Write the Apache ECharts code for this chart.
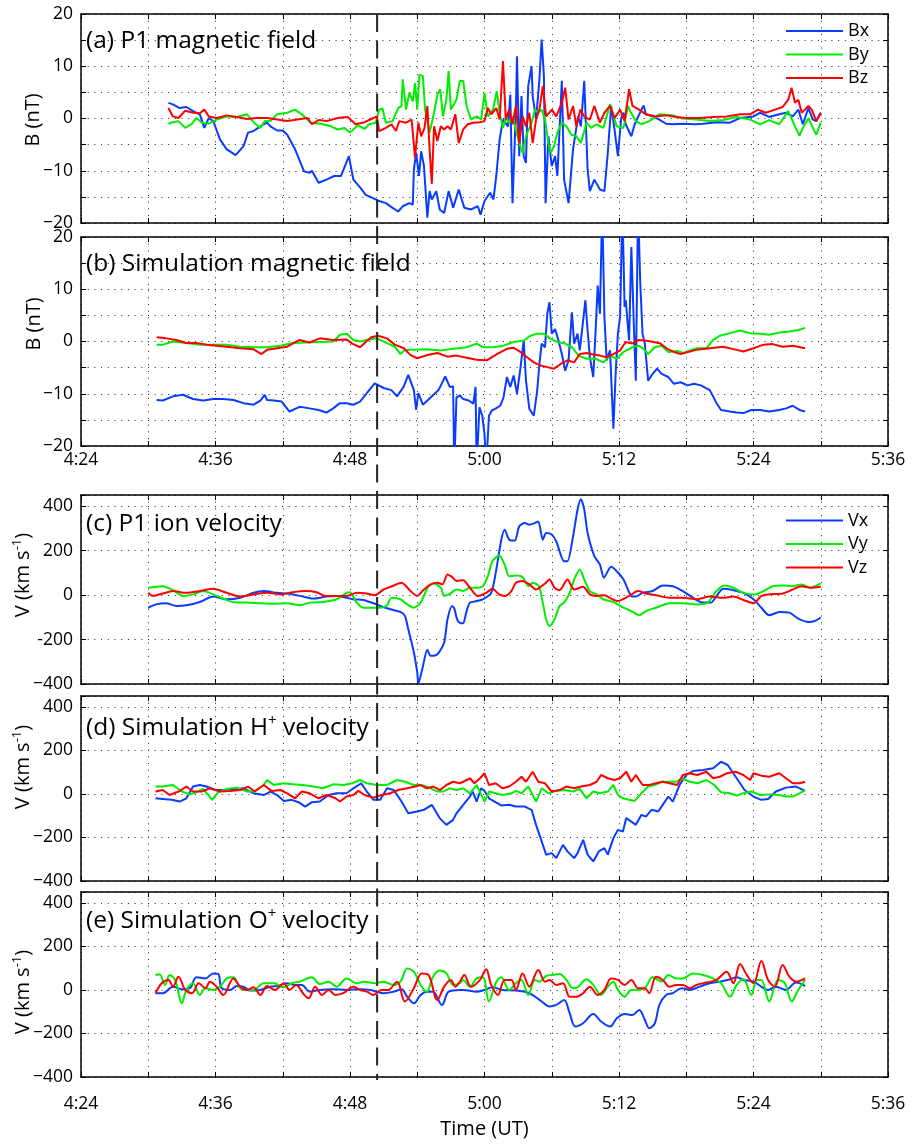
<!DOCTYPE html>
<html>
<head>
<meta charset="utf-8">
<script src="https://cdn.jsdelivr.net/npm/echarts@6/dist/echarts.min.js"></script>
<style>
  html, body { margin: 0; padding: 0; background: #fff; }
  #chart { width: 912px; height: 1144px; }
</style>
</head>
<body>
<div id="chart"></div>
<script>
// ---- Time axis (minutes after 04:00 UT) ----
const timeTicks = [24, 36, 48, 60, 72, 84, 96];
const timeTickLabels = ['4:24', '4:36', '4:48', '5:00', '5:12', '5:24', '5:36'];
const dashTime = 50.42; // vertical reference time, ~4:50:25 UT

// ---- Y tick labels ----
const bTicks = [-20, -10, 0, 10, 20];
const bTickLabels = ['\u221220', '\u221210', '0', '10', '20'];
const vTicks = [-400, -200, 0, 200, 400];
const vTickLabels = ['\u2212400', '\u2212200', '0', '200', '400'];
const cTickLabels = ['\u2212400', '-200', '0', '200', '400'];

// ---- (a) P1 magnetic field [minute, nT] ----
const aBx = [[31.8,3.0],[32.2,2.7],[32.8,2.0],[33.4,2.2],[34.0,1.4],[34.6,0.8],[35.0,-1.8],[35.4,0.1],[35.8,-0.5],[36.4,-4.0],[37.0,-5.9],[37.8,-7.0],[38.5,-5.3],[38.9,-2.7],[39.4,-2.4],[39.8,-1.8],[40.3,-1.1],[40.6,-0.8],[40.9,-1.5],[41.5,-2.3],[42.0,-2.3],[42.4,-3.1],[43.1,-5.9],[43.9,-10.1],[44.4,-10.4],[44.6,-10.0],[45.2,-12.3],[45.9,-11.7],[46.6,-11.0],[47.2,-11.0],[47.9,-7.2],[48.3,-11.7],[48.9,-13.2],[49.4,-14.6],[50.0,-15.2],[50.6,-15.8],[51.2,-16.2],[51.8,-17.1],[52.3,-17.8],[52.7,-16.8],[53.3,-16.2],[53.6,-16.5],[53.7,-9.8],[53.9,-6.6],[54.15,-11.0],[54.35,-6.3],[54.6,-9.1],[54.9,-19.0],[55.1,-13.9],[55.3,-15.5],[55.7,-13.9],[56.0,-17.4],[56.4,-18.1],[56.8,-13.9],[57.2,-17.1],[57.7,-13.6],[58.2,-17.1],[58.8,-17.4],[59.4,-16.8],[59.65,-18.4],[60.0,-15.8],[60.5,-14.2],[60.8,-15.5],[61.05,-11.0],[61.35,-4.0],[61.65,-0.2],[62.1,-1.5],[62.3,4.6],[62.5,-16.2],[62.8,1.7],[62.9,11.9],[63.1,-7.2],[63.3,4.3],[63.5,-7.2],[63.7,-8.5],[63.9,6.2],[64.2,10.0],[64.3,4.3],[64.6,-0.2],[64.9,7.5],[65.1,15.1],[65.3,8.1],[65.45,-16.2],[65.7,-3.4],[66.0,-9.1],[66.3,-7.2],[66.5,-11.0],[66.9,7.2],[67.1,-11.7],[67.5,-16.2],[67.9,-5.9],[68.35,0.4],[68.6,-1.5],[68.9,7.2],[69.2,-9.8],[69.4,-13.9],[69.8,-11.7],[70.3,-13.6],[70.7,-13.9],[71.0,-6.6],[71.3,2.4],[71.6,-2.1],[71.9,-7.2],[72.2,0.1],[72.4,1.1],[72.6,-1.1],[73.1,-3.4],[73.4,-1.1],[74.0,1.7],[74.2,2.5],[74.4,0.8],[75.0,0.4],[75.6,-0.2],[76.2,-1.0],[76.8,-1.1],[77.7,-1.0],[78.8,-1.1],[79.5,-1.0],[80.7,-0.7],[81.9,-0.8],[82.8,0.1],[84.0,0.4],[84.6,1.1],[85.4,0.3],[86.3,0.8],[86.9,1.1],[87.5,0.4],[88.0,1.7],[88.4,-1.1],[88.9,2.0],[89.3,-0.2],[89.6,-0.5],[90.0,1.1]];
const aBy = [[31.8,-1.0],[32.2,-0.7],[32.7,-0.5],[33.3,-1.8],[33.9,-1.0],[34.3,0.1],[34.8,-0.8],[35.4,-1.0],[36.1,-0.2],[37.0,0.4],[37.9,0.3],[38.8,0.8],[39.4,-0.7],[40.0,-1.8],[40.4,-0.5],[40.9,-0.5],[41.5,0.8],[42.4,1.1],[43.1,1.7],[43.7,0.8],[44.5,-0.8],[45.4,-1.0],[46.3,-1.5],[46.9,-2.1],[47.5,-1.8],[48.0,-2.7],[48.7,-1.3],[49.3,-2.0],[49.7,-1.1],[50.3,-0.8],[50.6,1.7],[50.9,1.9],[51.2,-0.8],[51.8,-0.5],[52.3,2.0],[52.6,2.4],[52.7,7.5],[53.0,1.7],[53.3,4.9],[53.6,3.3],[53.8,6.8],[54.0,1.7],[54.2,8.4],[54.5,8.1],[54.7,1.7],[55.1,-2.7],[55.5,1.1],[55.8,4.6],[56.05,5.6],[56.3,0.4],[56.6,3.6],[56.8,9.1],[57.0,1.7],[57.5,3.6],[57.8,7.2],[58.1,7.2],[58.4,2.4],[58.8,-0.2],[59.3,0.4],[59.7,-0.2],[60.0,4.9],[60.3,0.4],[60.75,1.7],[61.1,5.2],[61.35,1.1],[61.65,-1.8],[61.9,0.1],[62.2,-0.8],[62.5,0.4],[62.8,-2.1],[63.1,-4.7],[63.4,-6.6],[63.7,-3.4],[64.2,-0.8],[64.5,1.7],[64.8,1.1],[65.1,1.7],[65.4,-0.2],[65.7,-4.7],[65.9,-6.6],[66.2,-5.3],[66.5,-2.7],[66.9,-0.8],[67.3,-1.5],[67.75,-3.1],[68.2,-3.4],[68.6,-4.7],[69.1,-0.8],[69.5,-1.8],[70.0,-1.1],[70.6,-1.8],[71.2,2.7],[71.8,-1.5],[72.4,-1.8],[72.8,2.4],[73.0,1.4],[73.5,-0.5],[74.0,-1.1],[74.7,-0.5],[75.6,0.8],[76.8,0.6],[77.7,0.0],[78.9,-0.2],[80.1,-0.5],[81.3,-0.3],[82.5,0.3],[83.7,-0.2],[84.6,-1.1],[85.4,-0.3],[86.3,-1.1],[87.1,1.4],[87.7,-1.5],[88.1,-3.3],[88.4,-1.8],[88.9,0.1],[89.3,-1.8],[89.6,-3.1],[90.0,-0.8]];
const aBz = [[31.8,2.0],[32.2,0.4],[32.7,0.1],[33.3,1.5],[34.0,1.1],[34.6,1.0],[35.0,1.7],[35.4,0.4],[36.1,0.1],[37.0,0.6],[37.9,0.3],[38.8,-0.1],[39.7,0.1],[40.6,0.1],[41.5,-0.2],[42.4,-0.5],[43.3,-0.2],[44.2,0.1],[44.6,-1.1],[45.2,-0.3],[45.9,-0.5],[46.9,0.1],[47.8,0.3],[48.5,-1.1],[49.3,-0.7],[49.9,-0.1],[50.4,0.4],[50.6,-2.4],[51.2,-1.8],[51.7,-1.1],[52.1,-2.4],[52.4,-0.5],[53.0,-0.8],[53.5,-0.2],[53.8,-7.5],[54.1,-0.8],[54.35,-3.4],[54.65,-1.8],[54.9,2.4],[55.1,-5.9],[55.3,-12.5],[55.5,-1.5],[55.8,-4.3],[56.1,-1.5],[56.4,-2.1],[56.7,-1.5],[57.0,-2.1],[57.4,0.8],[57.7,-4.7],[58.1,-2.1],[58.5,-1.1],[59.0,-0.8],[59.6,-0.7],[60.0,-0.5],[60.3,2.0],[60.6,0.8],[61.05,2.0],[61.35,-0.2],[61.65,11.0],[61.9,-0.2],[62.2,1.7],[62.5,-1.1],[62.8,2.4],[63.1,-4.7],[63.4,0.4],[63.7,-1.5],[64.0,1.1],[64.3,-4.7],[64.6,-0.2],[64.9,1.7],[65.2,6.2],[65.5,0.4],[66.0,1.7],[66.4,0.4],[66.9,3.0],[67.2,5.9],[67.5,-0.2],[67.9,2.4],[68.2,-1.5],[68.55,1.7],[68.9,0.4],[69.4,-0.2],[69.8,2.4],[70.3,-0.8],[70.7,1.1],[71.2,2.4],[71.6,0.1],[72.1,1.7],[72.5,-0.5],[72.9,5.6],[73.2,2.4],[73.8,1.7],[74.4,0.8],[75.3,0.4],[76.2,0.6],[77.1,0.3],[78.0,0.1],[79.2,0.1],[80.4,0.3],[81.6,0.4],[82.8,0.8],[83.7,0.8],[84.4,1.7],[85.1,1.1],[85.9,1.7],[86.6,2.2],[87.1,3.6],[87.4,5.9],[87.7,3.0],[88.0,3.6],[88.3,1.1],[88.6,1.7],[88.9,2.4],[89.2,1.7],[89.6,-0.5],[90.0,1.1]];

// ---- (b) Simulation magnetic field [minute, nT] ----
const bBx = [[30.75,-11.2],[31.3,-11.3],[32.2,-10.5],[33.1,-10.2],[34.0,-11.0],[34.9,-11.3],[35.8,-11.0],[36.7,-11.0],[37.6,-11.2],[38.5,-11.8],[39.4,-12.1],[40.0,-11.3],[40.4,-10.2],[40.6,-11.2],[41.2,-11.3],[41.9,-11.5],[42.6,-13.4],[43.5,-12.5],[44.4,-12.8],[45.2,-13.1],[45.9,-13.6],[46.5,-12.8],[47.1,-11.8],[47.7,-11.8],[48.3,-12.1],[48.9,-11.5],[49.5,-9.9],[50.2,-8.0],[51.0,-8.9],[51.7,-9.3],[52.2,-10.5],[52.8,-8.6],[53.2,-6.4],[53.7,-9.3],[53.9,-13.1],[54.1,-9.9],[54.5,-12.1],[55.1,-10.9],[55.9,-9.3],[56.5,-6.7],[56.9,-8.7],[57.2,-8.6],[57.3,-24],[57.5,-10.7],[57.8,-10.3],[58.1,-11.0],[58.6,-11.3],[59.0,-11.9],[59.2,-8.7],[59.3,-24],[59.55,-12.6],[59.8,-14.2],[60.0,-17.7],[60.15,-24],[60.4,-14.2],[60.65,-13.2],[60.95,-12.9],[61.4,-12.3],[61.7,-10.7],[62.0,-6.8],[62.3,-8.7],[62.6,-6.5],[62.9,-10.0],[63.2,-5.2],[63.5,0.2],[63.7,-7.5],[64.0,-12.9],[64.4,-14.2],[64.7,-9.4],[64.9,-4.3],[65.1,-0.4],[65.4,-1.1],[65.6,5.3],[65.8,7.5],[66.0,1.5],[66.3,2.4],[66.6,0.2],[66.9,-2.4],[67.2,-5.6],[67.5,-3.6],[67.8,5.6],[68.0,-0.4],[68.3,1.5],[68.5,-1.7],[68.8,4.0],[69.0,7.9],[69.2,2.1],[69.4,-3.0],[69.7,-6.8],[69.9,1.5],[70.1,10.7],[70.3,5.3],[70.5,26],[70.7,4.7],[70.9,-3.6],[71.2,-1.7],[71.5,-16.7],[71.7,-6.2],[71.9,1.5],[72.1,4.7],[72.3,26],[72.5,6.6],[72.6,7.9],[72.9,0.2],[73.1,18.1],[73.3,4.7],[73.5,-7.5],[73.7,26],[73.9,11.0],[74.1,1.5],[74.3,-0.4],[74.6,-7.5],[74.9,-6.5],[75.4,-5.2],[75.8,-6.2],[76.4,-6.8],[76.9,-8.1],[77.5,-7.8],[78.1,-8.4],[78.7,-8.1],[79.3,-8.4],[80.1,-9.3],[80.7,-11.8],[81.1,-13.1],[81.9,-13.4],[82.5,-13.6],[83.1,-13.7],[83.8,-13.1],[84.6,-13.1],[85.4,-13.4],[86.3,-13.1],[86.9,-12.8],[87.5,-12.3],[88.1,-13.1],[88.6,-13.4]];
const bBy = [[30.75,-0.6],[31.3,-0.6],[32.2,0.0],[33.4,-0.3],[34.6,-0.6],[35.8,-0.6],[37.0,-0.6],[38.2,-1.0],[39.4,-1.1],[40.6,-1.1],[41.8,-0.8],[42.9,-0.3],[44.1,-0.2],[45.3,-0.1],[46.5,0.0],[47.1,1.3],[47.7,1.5],[48.3,0.3],[48.9,0.0],[49.5,0.3],[50.4,0.6],[51.3,-0.3],[52.0,-1.0],[52.5,-2.4],[52.9,-1.6],[53.7,-1.6],[54.9,-1.5],[56.1,-1.7],[57.2,-1.4],[58.4,-1.1],[59.3,-0.4],[59.9,-1.1],[60.8,-1.1],[61.7,-0.8],[62.6,-0.1],[63.5,0.2],[64.1,1.1],[64.7,1.5],[65.3,1.5],[65.9,0.5],[66.5,-0.1],[67.2,-0.4],[67.8,-1.1],[68.4,-2.7],[69.1,-3.3],[69.9,-3.3],[70.6,-4.0],[71.2,-2.7],[71.8,-3.3],[72.4,-2.0],[73.2,-1.1],[73.75,-0.8],[74.2,-1.4],[74.6,-2.4],[75.2,-1.1],[75.8,-0.8],[76.4,-2.0],[77.2,-1.8],[77.7,-2.2],[78.9,-1.3],[79.8,-1.3],[80.4,0.3],[81.0,1.1],[81.9,1.6],[82.8,2.1],[83.7,1.6],[84.6,1.5],[85.4,1.3],[86.3,1.7],[87.2,1.9],[88.0,2.2],[88.6,2.6]];
const bBz = [[30.75,0.8],[31.6,0.6],[32.5,0.3],[33.4,-0.3],[34.3,-0.3],[35.2,-0.6],[36.1,-0.8],[37.0,-1.0],[38.2,-1.3],[39.4,-1.5],[40.1,-2.4],[40.6,-1.6],[41.5,-1.3],[42.4,-1.0],[43.5,0.3],[44.4,-0.2],[45.3,0.6],[46.5,0.3],[47.7,0.4],[48.2,-0.4],[48.9,-1.1],[49.3,-0.3],[49.9,0.8],[50.5,1.1],[51.3,0.6],[52.0,-0.6],[52.8,-1.3],[53.4,-2.6],[54.0,-3.2],[54.9,-2.6],[55.8,-2.2],[56.7,-2.9],[57.5,-2.7],[58.4,-3.1],[59.3,-3.5],[60.2,-3.6],[61.1,-2.4],[62.0,-1.4],[62.6,-1.2],[63.2,-2.0],[63.8,-3.0],[64.4,-4.0],[65.0,-4.6],[65.6,-4.9],[66.2,-5.2],[66.8,-4.3],[67.4,-3.6],[68.0,-4.0],[68.5,-2.4],[69.1,-2.2],[69.7,-2.5],[70.3,-2.7],[70.9,-3.0],[71.5,-2.4],[72.1,-1.7],[72.6,-0.1],[73.2,-0.4],[73.75,0.3],[74.3,0.2],[75.1,-0.1],[75.7,-0.4],[76.3,-1.4],[76.9,-2.0],[77.5,-2.4],[78.9,-1.6],[80.1,-1.3],[81.3,-1.0],[82.5,-1.6],[83.1,-1.9],[84.0,-1.3],[84.9,-0.6],[85.7,-0.5],[86.6,-1.0],[87.5,-0.8],[88.6,-1.3]];

// ---- (c) P1 ion velocity [minute, km/s] ----
const cVx = [[30.0,-57],[30.7,-42],[31.6,-37],[32.5,-49],[33.4,-46],[34.6,-31],[35.8,-7],[37.0,-19],[38.2,-12],[39.4,10],[40.3,18],[41.5,10],[42.6,6],[43.8,-7],[44.7,-16],[45.9,-7],[46.8,-4],[47.7,-12],[48.3,-19],[49.2,-22],[50.1,-37],[50.7,-49],[51.6,-64],[52.5,-76],[52.9,-94],[53.2,-154],[53.7,-258],[54.0,-348],[54.1,-396],[54.45,-333],[54.9,-246],[55.2,-273],[55.8,-266],[56.4,-213],[56.7,-109],[57.1,-49],[57.3,-60],[57.6,-115],[57.9,-127],[58.1,-127],[58.4,-72],[58.7,-34],[59.3,-27],[59.85,-19],[60.6,10],[61.0,100],[61.5,249],[61.8,294],[62.2,249],[62.7,245],[63.1,309],[63.6,324],[64.0,316],[64.5,324],[64.8,331],[65.2,249],[65.5,279],[66.0,272],[66.4,242],[67.1,152],[67.4,152],[67.9,264],[68.3,384],[68.6,431],[68.9,384],[69.2,279],[69.8,175],[70.3,137],[70.65,78],[71.3,127],[71.8,107],[72.4,70],[73.1,-4],[73.5,-7],[74.1,10],[75.0,18],[75.9,43],[76.8,40],[77.7,18],[78.6,-12],[79.5,-34],[80.2,-34],[80.8,3],[81.3,28],[82.2,22],[83.1,10],[84.0,-19],[84.7,-57],[85.4,-91],[86.3,-76],[87.2,-79],[88.0,-106],[88.9,-121],[89.5,-116],[90.0,-101]];
const cVy = [[30.0,33],[30.7,37],[31.3,40],[32.2,22],[33.1,-4],[34.0,3],[34.9,18],[35.8,3],[36.7,-16],[37.5,-31],[38.8,-34],[40.0,-37],[41.2,-39],[42.4,-37],[43.5,-46],[44.4,-34],[45.6,-31],[46.8,-19],[47.7,10],[48.0,13],[48.6,-34],[49.2,-57],[49.9,-57],[50.7,-57],[51.3,-46],[51.7,-12],[52.5,-19],[53.1,-42],[53.7,-57],[54.3,-34],[55.0,40],[55.5,52],[56.1,33],[56.4,-4],[56.9,5],[57.5,25],[58.1,18],[58.7,33],[59.3,33],[59.85,40],[60.3,85],[60.7,152],[61.3,178],[61.8,137],[62.2,85],[62.8,88],[63.4,81],[63.9,40],[64.3,55],[64.85,40],[65.2,-34],[65.5,-109],[65.8,-139],[66.25,-109],[66.7,-49],[67.1,-34],[67.6,10],[68.0,70],[68.5,115],[68.9,70],[69.4,18],[70.0,3],[70.6,-19],[71.5,-31],[72.4,-57],[73.1,-72],[73.8,-91],[74.4,-72],[75.3,-57],[76.5,-37],[77.7,-37],[78.9,-42],[79.9,-34],[80.7,18],[81.4,43],[82.2,33],[83.1,10],[84.1,3],[84.9,18],[85.7,40],[86.6,43],[87.5,40],[88.3,48],[89.1,33],[90.0,52]];
const cVz = [[30.0,10],[30.4,-4],[31.3,7],[32.2,18],[33.4,10],[34.6,18],[35.8,28],[37.0,10],[38.2,-7],[39.4,3],[40.6,10],[41.8,3],[42.9,13],[44.1,18],[45.0,13],[45.8,-4],[46.8,-4],[47.7,-4],[48.6,10],[49.5,7],[50.2,-1],[51.0,25],[51.9,43],[52.6,55],[53.4,18],[54.0,-4],[54.6,25],[55.2,48],[55.8,55],[56.25,48],[56.7,93],[57.1,82],[57.5,63],[58.1,67],[58.7,33],[59.4,-4],[60.15,10],[60.7,28],[61.3,3],[61.8,-4],[62.4,18],[62.8,55],[63.4,63],[64.0,48],[64.6,25],[65.4,52],[65.8,70],[66.25,33],[66.7,22],[67.4,70],[68.0,25],[68.8,37],[69.4,3],[70.0,-4],[70.7,-1],[71.3,-16],[71.9,-27],[72.35,-19],[72.9,-4],[73.7,18],[74.4,7],[75.3,-1],[76.5,-12],[77.7,-12],[78.9,-19],[80.1,-7],[81.3,-12],[82.2,-7],[83.1,-22],[84.0,-37],[84.7,-4],[85.4,3],[86.6,7],[87.5,25],[88.3,40],[89.1,33],[90.0,37]];

// ---- (d) Simulation H+ velocity [minute, km/s] ----
const dVx = [[30.65,-20],[31.3,-23],[32.1,-27],[32.8,-35],[33.4,-20],[34.0,34],[34.6,41],[35.2,34],[36.0,18],[36.7,18],[37.6,21],[38.5,26],[39.4,3],[40.3,-5],[40.9,11],[41.5,-5],[42.1,-32],[42.8,-27],[43.4,-38],[44.0,-58],[44.6,-38],[45.3,-35],[46.1,-5],[46.8,3],[47.7,3],[48.3,26],[49.0,49],[49.5,11],[50.1,-27],[50.7,-27],[51.3,26],[51.9,18],[52.5,-27],[53.2,-89],[54.0,-81],[54.6,-73],[55.3,-50],[56.0,-111],[56.6,-142],[57.2,-119],[57.5,-89],[58.1,-50],[58.7,-12],[58.95,11],[59.3,-35],[59.7,26],[60.0,14],[60.4,-20],[60.9,-35],[61.5,-53],[62.2,-50],[62.8,-58],[63.6,-58],[64.2,-73],[64.6,-142],[65.1,-218],[65.5,-279],[66.0,-272],[66.4,-295],[67.0,-234],[67.4,-264],[68.0,-295],[68.3,-272],[68.8,-211],[69.2,-279],[69.7,-310],[70.2,-264],[70.7,-249],[71.0,-279],[71.5,-203],[71.9,-165],[72.35,-173],[72.65,-111],[73.1,-127],[73.5,-142],[74.0,-96],[74.4,-104],[74.9,-73],[75.5,-81],[75.9,-50],[76.4,-12],[76.8,-35],[77.4,41],[78.0,87],[78.6,105],[79.5,110],[80.4,118],[81.1,148],[81.7,133],[82.5,72],[83.2,18],[84.0,-12],[84.7,-27],[85.3,-23],[86.0,11],[86.9,29],[87.8,34],[88.6,14]];
const dVy = [[30.65,34],[31.3,34],[32.2,41],[33.0,11],[33.7,-2],[34.3,8],[34.9,23],[35.7,-27],[36.25,8],[37.0,23],[37.9,29],[38.8,11],[39.4,11],[40.3,41],[40.6,64],[41.2,41],[42.1,49],[42.9,44],[43.8,41],[44.7,34],[45.6,26],[46.5,44],[47.4,41],[48.2,49],[48.9,64],[49.5,49],[50.4,41],[51.3,41],[52.2,64],[52.9,56],[53.7,41],[54.4,41],[55.2,26],[55.8,11],[56.3,11],[56.9,26],[57.5,18],[58.1,26],[58.7,3],[59.3,41],[60.0,-35],[60.4,11],[61.0,3],[61.6,-5],[62.4,3],[62.8,14],[63.3,3],[63.9,34],[64.3,-5],[64.6,-35],[65.1,26],[65.7,3],[66.4,14],[67.1,18],[67.9,11],[68.5,23],[69.1,-20],[69.7,11],[70.3,3],[71.0,11],[71.5,41],[71.9,-5],[72.35,-20],[72.9,-27],[73.4,-32],[74.0,3],[74.6,34],[75.2,41],[75.8,56],[76.4,56],[77.1,56],[77.6,72],[78.3,56],[79.0,49],[79.8,64],[80.5,41],[81.1,8],[81.9,3],[82.5,-8],[83.1,3],[83.8,11],[84.6,-5],[85.4,-2],[86.3,-5],[86.9,-12],[87.5,-12],[88.1,3],[88.6,18]];
const dVz = [[30.65,11],[31.3,18],[31.9,-5],[32.7,11],[33.4,34],[34.0,11],[34.8,11],[35.5,26],[36.4,11],[37.3,14],[38.2,18],[38.9,34],[39.5,11],[40.3,41],[41.0,14],[41.8,18],[42.4,3],[43.1,-20],[43.7,11],[44.4,3],[45.2,-20],[45.9,-5],[46.7,-20],[47.1,-35],[47.7,-12],[48.3,-5],[48.75,14],[49.3,-5],[50.1,-17],[50.8,-5],[51.6,3],[52.3,18],[53.1,26],[53.8,34],[54.3,41],[54.85,26],[55.45,34],[56.05,18],[56.6,41],[57.2,56],[57.8,49],[58.1,56],[58.7,72],[59.1,49],[59.6,72],[60.0,95],[60.4,41],[61.0,49],[61.6,26],[62.2,34],[62.8,56],[63.3,79],[63.7,56],[64.3,102],[64.8,56],[65.4,49],[66.0,11],[66.7,18],[67.3,34],[68.0,26],[68.6,34],[69.4,41],[70.0,56],[70.4,87],[71.0,72],[71.6,64],[72.1,72],[72.65,102],[73.1,56],[73.5,87],[74.1,41],[74.7,41],[75.3,49],[75.9,56],[76.5,49],[77.2,41],[77.7,87],[78.3,95],[79.0,87],[79.8,102],[80.4,72],[81.0,79],[81.6,95],[82.4,102],[83.1,87],[83.7,64],[84.0,95],[84.7,84],[85.4,79],[86.3,95],[86.9,72],[87.5,49],[88.1,49],[88.6,56]];

// ---- (e) Simulation O+ velocity [minute, km/s] ----
const eVx = [[30.65,-15],[31.3,-15],[32.2,15],[33.0,3],[33.7,8],[34.3,58],[35.1,53],[35.8,76],[36.25,73],[36.55,8],[37.3,0],[37.9,18],[38.5,15],[39.1,-3],[40.0,0],[40.9,15],[41.6,18],[42.35,31],[43.1,23],[43.7,23],[44.4,-8],[45.3,0],[46.5,3],[47.7,0],[48.9,3],[49.8,0],[51.0,-15],[51.9,-8],[52.6,3],[53.1,-31],[53.7,-61],[54.3,-23],[54.85,-8],[55.4,-8],[56.2,-69],[56.8,-8],[57.8,0],[58.1,0],[59.3,-8],[60.0,0],[60.7,12],[61.6,0],[62.8,-3],[64.0,-15],[65.1,-53],[65.8,-76],[66.4,-69],[67.1,-46],[67.6,-107],[68.1,-168],[68.8,-153],[69.7,-110],[70.4,-145],[71.2,-168],[71.8,-130],[72.5,-110],[73.2,-115],[73.8,-92],[74.3,-137],[74.7,-176],[75.2,-153],[75.6,-69],[76.2,-23],[76.8,-15],[77.6,8],[78.3,0],[79.2,15],[80.1,31],[81.0,38],[81.9,49],[82.5,58],[83.1,46],[84.0,38],[84.7,15],[85.3,0],[86.0,15],[86.9,0],[87.8,34],[88.6,18]];
const eVy = [[30.65,69],[31.0,72],[31.5,23],[31.9,69],[32.4,46],[33.0,-61],[33.4,0],[34.0,31],[34.6,-23],[35.1,8],[35.8,0],[36.4,15],[37.0,53],[37.6,58],[38.2,8],[38.8,0],[39.4,0],[40.3,31],[41.2,31],[42.1,12],[42.8,31],[43.5,38],[44.6,58],[45.3,27],[46.1,38],[46.8,15],[47.7,53],[48.6,31],[49.3,38],[50.2,31],[51.0,38],[51.9,23],[52.5,38],[53.1,99],[53.7,84],[54.3,23],[54.85,-8],[55.4,61],[56.0,89],[56.6,76],[57.2,23],[57.8,31],[58.1,46],[58.7,15],[59.3,53],[59.85,58],[60.4,-53],[61.0,31],[61.5,58],[62.2,0],[62.8,31],[63.3,46],[63.9,-23],[64.5,46],[64.9,38],[65.5,64],[66.1,69],[66.7,73],[67.3,46],[67.9,8],[68.3,12],[69.1,49],[69.7,23],[70.4,-23],[71.0,15],[71.5,38],[71.9,0],[72.5,-31],[73.1,0],[73.8,0],[74.4,15],[75.0,58],[75.8,38],[76.4,69],[77.1,53],[77.7,53],[78.6,76],[79.5,69],[80.4,53],[81.1,31],[81.9,-31],[82.5,23],[83.1,49],[83.8,-23],[84.3,46],[84.7,46],[85.4,-53],[86.2,46],[86.8,31],[87.4,-53],[88.0,0],[88.6,46]];
const eVz = [[30.65,-15],[31.2,31],[31.8,46],[32.2,15],[32.7,61],[33.3,0],[33.9,-15],[34.5,31],[35.1,8],[35.5,38],[36.1,15],[36.7,-23],[37.6,53],[38.2,15],[38.8,0],[39.4,12],[40.0,-23],[40.6,18],[41.3,0],[42.1,31],[42.6,0],[43.2,23],[43.8,-15],[44.3,-38],[44.9,15],[45.5,-23],[46.1,0],[46.7,-23],[47.4,-15],[48.3,15],[48.9,0],[49.5,-8],[50.1,-23],[50.8,0],[51.4,0],[52.2,38],[52.9,-53],[53.7,8],[54.4,76],[55.0,69],[55.8,-46],[56.4,15],[57.0,46],[57.4,15],[57.8,38],[58.2,69],[58.8,15],[59.6,46],[60.15,95],[60.6,23],[61.2,-23],[61.8,46],[62.4,46],[62.8,0],[63.4,76],[64.0,15],[64.8,92],[65.4,38],[65.8,46],[66.4,23],[67.0,31],[67.6,-31],[68.2,-31],[68.8,-15],[69.4,15],[70.1,-23],[70.7,0],[71.3,53],[71.9,46],[72.5,23],[73.1,46],[73.7,8],[74.3,8],[74.7,-15],[75.3,61],[75.9,46],[76.5,15],[77.1,23],[77.7,23],[78.3,8],[78.9,23],[79.8,34],[80.7,46],[81.6,84],[82.2,31],[82.8,119],[83.4,69],[84.0,31],[84.7,133],[85.3,46],[85.9,15],[86.6,115],[87.2,61],[87.8,38],[88.6,53]];

// ---- Styling ----
const FONT = '"Open Sans", "DejaVu Sans", sans-serif';
const COLORS = ['#0a3cff', '#00ee00', '#ff0000'];
const GRID_LEFT = 81, GRID_RIGHT = 24;

const panels = [
  { top: 14,  height: 209, y: [-20, 20, 5],    ticks: bTicks, tickText: bTickLabels,
    title: '(a) P1 magnetic field', titleY: 41, yTitle: 'B (nT)', yTitlePos: [33, 120],
    data: [aBx, aBy, aBz], names: ['Bx', 'By', 'Bz'], timeLabels: false, smooth: false },
  { top: 237, height: 209, y: [-20, 20, 5],    ticks: bTicks, tickText: bTickLabels,
    title: '(b) Simulation magnetic field', titleY: 264, yTitle: 'B (nT)', yTitlePos: [34, 324],
    data: [bBx, bBy, bBz], names: ['Bx sim', 'By sim', 'Bz sim'], timeLabels: true, labelMargin: 5, smooth: false },
  { top: 495, height: 189, y: [-400, 450, 200], ticks: vTicks, tickText: cTickLabels,
    title: '(c) P1 ion velocity', titleY: 524.5, yTitle: 'V (km s{sup|-1})', yTitlePos: [23, 575],
    data: [cVx, cVy, cVz], names: ['Vx', 'Vy', 'Vz'], timeLabels: false, smooth: 0.25 },
  { top: 696, height: 185, y: [-400, 450, 200], ticks: vTicks, tickText: vTickLabels,
    title: '(d) Simulation H{sup|+} velocity', titleY: 728, yTitle: 'V (km s{sup|-1})', yTitlePos: [23, 767],
    data: [dVx, dVy, dVz], names: ['Vx H', 'Vy H', 'Vz H'], timeLabels: false, smooth: false },
  { top: 892, height: 185, y: [-400, 450, 200], ticks: vTicks, tickText: vTickLabels,
    title: '(e) Simulation O{sup|+} velocity', titleY: 921.5, yTitle: 'V (km s{sup|-1})', yTitlePos: [23, 992],
    data: [eVx, eVy, eVz], names: ['Vx O', 'Vy O', 'Vz O'], timeLabels: true, labelMargin: 18, smooth: 0.35,
    xName: 'Time (UT)' }
];

const frameLine = { show: true, onZero: false, lineStyle: { color: '#000', width: 1.5 } };
const innerTick = { show: true, inside: true, length: 5, lineStyle: { color: '#000', width: 1 } };
const dotted = { show: true, lineStyle: { color: '#222', width: 1, type: [1, 5.7] } };

function timeLabel(v) {
  const i = timeTicks.indexOf(v);
  return i >= 0 ? timeTickLabels[i] : '';
}

const grid = [], xAxis = [], yAxis = [], series = [];
panels.forEach((p, i) => {
  grid.push({ left: GRID_LEFT, right: GRID_RIGHT, top: p.top, height: p.height, containLabel: false });
  xAxis.push({
    type: 'value', gridIndex: i, position: 'bottom', min: 24, max: 96, interval: 6,
    axisLine: frameLine, axisTick: innerTick, splitLine: dotted,
    axisLabel: { show: p.timeLabels, formatter: timeLabel, margin: p.labelMargin || 8,
      color: '#000', fontFamily: FONT, fontSize: 17.5 },
    name: p.xName || '', nameLocation: 'middle', nameGap: 42,
    nameTextStyle: { color: '#000', fontFamily: FONT, fontSize: 20 }
  });
  xAxis.push({
    type: 'value', gridIndex: i, position: 'top', min: 24, max: 96, interval: 6,
    axisLine: frameLine, axisTick: innerTick, splitLine: { show: false }, axisLabel: { show: false }
  });
  const yLabel = (v) => {
    const k = p.ticks.indexOf(v);
    return k >= 0 ? p.tickText[k] : '';
  };
  yAxis.push({
    type: 'value', gridIndex: i, position: 'left', min: p.y[0], max: p.y[1], interval: p.y[2],
    axisLine: frameLine, axisTick: innerTick, splitLine: dotted,
    axisLabel: { formatter: yLabel, margin: 8, color: '#000', fontFamily: FONT, fontSize: 17.5 }
  });
  yAxis.push({
    type: 'value', gridIndex: i, position: 'right', min: p.y[0], max: p.y[1], interval: p.y[2],
    axisLine: frameLine, axisTick: innerTick, splitLine: { show: false }, axisLabel: { show: false }
  });
  p.data.forEach((d, k) => {
    series.push({
      type: 'line', name: p.names[k], xAxisIndex: 2 * i, yAxisIndex: 2 * i, data: d,
      symbol: 'none', showSymbol: false, smooth: p.smooth, clip: true,
      lineStyle: { color: COLORS[k], width: 2 }, itemStyle: { color: COLORS[k] },
      z: 2 + k
    });
  });
});

const legendBase = {
  orient: 'vertical', left: 786, itemWidth: 57, itemHeight: 2, itemGap: 5.5, icon: 'rect',
  padding: 0, selectedMode: false,
  textStyle: { color: '#000', fontFamily: FONT, fontSize: 18 }
};

const chart = echarts.init(document.getElementById('chart'), null, { renderer: 'canvas' });
chart.setOption({
  animation: false,
  backgroundColor: '#fff',
  grid, xAxis, yAxis, series,
  legend: [
    Object.assign({}, legendBase, { data: ['Bx', 'By', 'Bz'], top: 22 }),
    Object.assign({}, legendBase, { data: ['Vx', 'Vy', 'Vz'], top: 511.5 })
  ]
});

// Panel titles, y-axis titles and the dashed reference time spanning all panels
const graphics = [];
panels.forEach((p) => {
  graphics.push({
    type: 'text', x: 86, y: p.titleY, z: 20,
    style: { text: p.title, fill: '#000', fontFamily: FONT, fontSize: 24.5,
      align: 'left', verticalAlign: 'middle',
      rich: { sup: { fontSize: 15, fontFamily: FONT, fill: '#000', verticalAlign: 'top', lineHeight: 30 } } }
  });
  graphics.push({
    type: 'text', x: p.yTitlePos[0], y: p.yTitlePos[1], rotation: Math.PI / 2, z: 20,
    style: { text: p.yTitle, fill: '#000', fontFamily: FONT, fontSize: 20,
      align: 'center', verticalAlign: 'middle',
      rich: { sup: { fontSize: 13, fontFamily: FONT, fill: '#000', verticalAlign: 'top', lineHeight: 25 } } }
  });
});
const xCut = chart.convertToPixel({ xAxisIndex: 0 }, dashTime);
const yTop = chart.convertToPixel({ yAxisIndex: 0 }, 20);
const yBottom = chart.convertToPixel({ yAxisIndex: 8 }, -400) + 3;
graphics.push({
  type: 'line', z: 30, silent: true,
  shape: { x1: xCut, y1: yTop, x2: xCut, y2: yBottom },
  style: { stroke: '#222', lineWidth: 2, lineDash: [18, 8.5] }
});
chart.setOption({ graphic: graphics });
</script>
</body>
</html>
